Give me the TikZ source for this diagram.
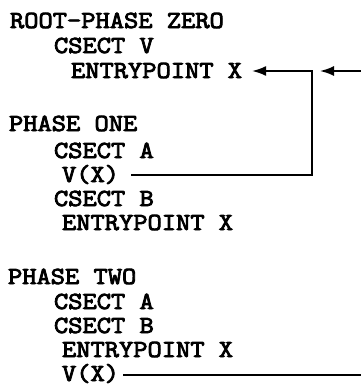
\documentclass[tikz,border=0pt]{standalone}
\usepackage{fontspec}
\newfontfamily\scanfont{Latin Modern Mono}[FakeStretch=1.13,FakeBold=3.5]
\usetikzlibrary{arrows.meta}
\begin{document}
\begin{tikzpicture}[x=1pt,y=-1pt,
  txt/.style={font=\scanfont\fontsize{24.5}{24.5}\selectfont,anchor=base west,inner sep=0pt,outer sep=0pt},
  conn/.style={line width=1.8pt,line cap=butt,line join=miter},
  arr/.style={conn,-{Latex[length=14pt,width=10pt]}}]
\useasboundingbox (0,0) rectangle (361,386);
% root phase
\node[txt] (r0) at (10,28) {ROOT-PHASE ZERO};
\node[txt] (r1) at (54,53) {CSECT V};
\node[txt] (r2) at (71,78) {ENTRYPOINT X};
% phase one
\node[txt] (p0) at (9,131) {PHASE ONE};
\node[txt] (p1) at (54,158) {CSECT A};
\node[txt] (p2) at (62,182) {V(X)};
\node[txt] (p3) at (54,206) {CSECT B};
\node[txt] (p4) at (62,230) {ENTRYPOINT X};
% phase two
\node[txt] (q0) at (8,284) {PHASE TWO};
\node[txt] (q1) at (54,309) {CSECT A};
\node[txt] (q2) at (54,333) {CSECT B};
\node[txt] (q3) at (62,357) {ENTRYPOINT X};
\node[txt] (q4) at (62,381) {V(X)};
% connectors
\coordinate (corner) at (312,71);
\coordinate (edgeTop) at (361,71);
\coordinate (edgeBot) at (361,375);
\draw[arr] ([shift={(12,-7)}]p2.base east) -| (corner) -- ([shift={(10,-7)}]r2.base east);
\draw[arr] (edgeTop) -- (320,71);
\draw[conn] ([shift={(4,-6)}]q4.base east) -- (edgeBot);
\end{tikzpicture}
\end{document}
